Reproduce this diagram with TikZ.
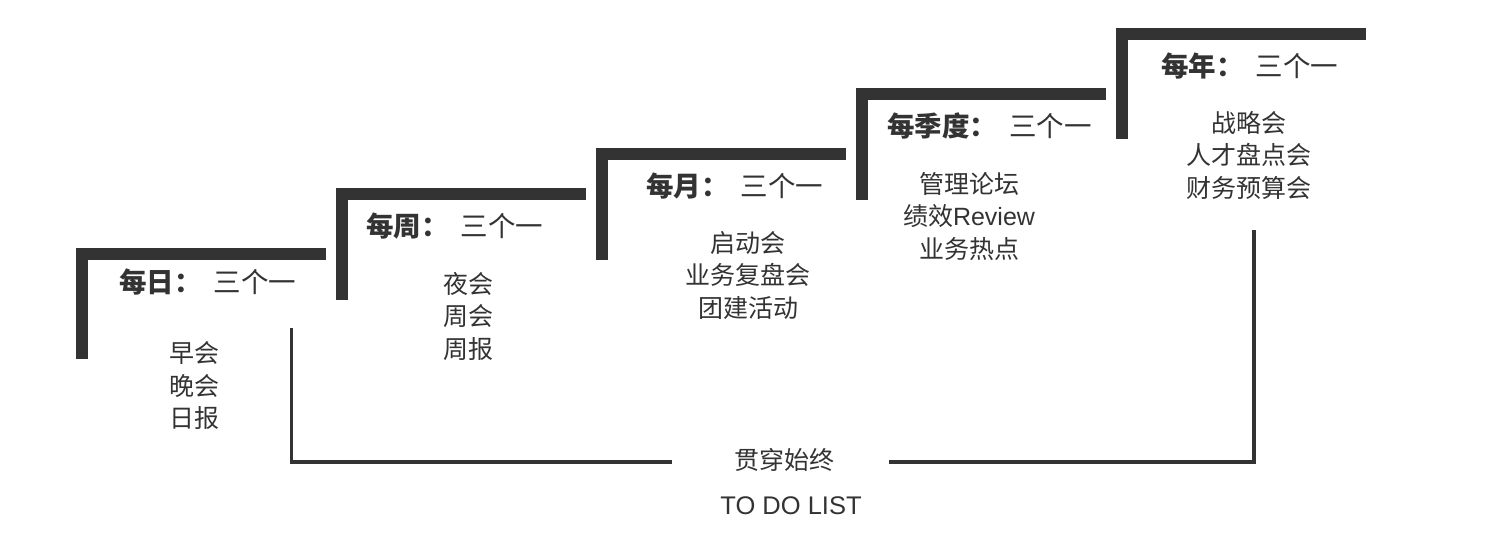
\documentclass[tikz,border=0pt]{standalone}
\usepackage{fontspec}
\setmainfont{Noto Sans CJK SC}
\newfontfamily\lat{Liberation Sans}
\definecolor{ink}{HTML}{333333}
\begin{document}
\begin{tikzpicture}[x=1pt,y=-1pt,
  bar/.style={draw=ink, line width=12pt, line join=miter, line cap=butt},
  thin/.style={draw=ink, line width=3.5pt, line join=miter},
  title/.style={font=\fontsize{27.5}{30}\selectfont, text=ink, inner sep=0pt, anchor=west},
  items/.style={font=\fontsize{25}{32.5}\selectfont, text=ink, inner sep=0pt, align=center},
  label/.style={font=\fontsize{25}{30}\selectfont, text=ink, inner sep=0pt}]
\useasboundingbox (0,0) rectangle (1486,538);
% step brackets
\draw[bar] (82,359) -- (82,254) -- (326,254);
\draw[bar] (342,300) -- (342,194) -- (586,194);
\draw[bar] (602,260) -- (602,154) -- (846,154);
\draw[bar] (862,200) -- (862,94) -- (1106,94);
\draw[bar] (1122,139) -- (1122,34) -- (1366,34);
% titles
\node[title] (t1) at (119,282) {\bfseries 每日：\hspace{0.44em}\mdseries 三个一};
\node[title] (t2) at (366,226) {\bfseries 每周：\hspace{0.44em}\mdseries 三个一};
\node[title] (t3) at (646,186) {\bfseries 每月：\hspace{0.44em}\mdseries 三个一};
\node[title] (t4) at (887,126) {\bfseries 每季度：\hspace{0.44em}\mdseries 三个一};
\node[title] (t5) at (1161,66) {\bfseries 每年：\hspace{0.44em}\mdseries 三个一};
% items
\node[items] (i1) at (194,386) {早会\\晚会\\日报};
\node[items] (i2) at (468,316) {夜会\\周会\\周报};
\node[items] (i3) at (748,275) {启动会\\业务复盘会\\团建活动};
\node[items] (i4) at (969,216) {管理论坛\\绩效{\lat Review}\\业务热点};
\node[items] (i5) at (1249,155) {战略会\\人才盘点会\\财务预算会};
% through line
\node[label] (thru) at (784,460) {贯穿始终};
\node[label, font=\lat\fontsize{25.5}{30}\selectfont] (todo) at (791,506) {TO DO LIST};
\coordinate (a1) at (291.5,328);
\coordinate (a2) at (672,462);
\coordinate (b1) at (889,462);
\coordinate (b2) at (1254,230);
\draw[thin] (a1) |- (a2);
\draw[thin] (b1) -| (b2);
\end{tikzpicture}
\end{document}
